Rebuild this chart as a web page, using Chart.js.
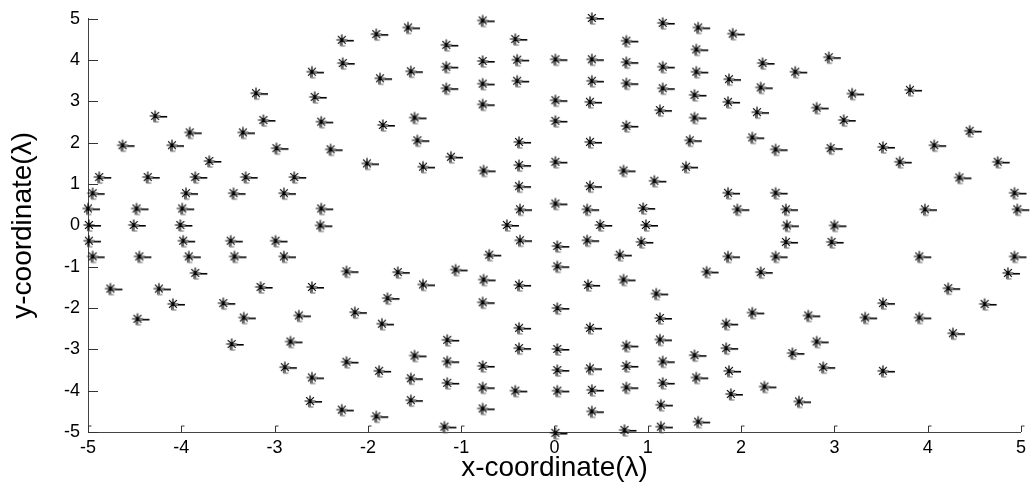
<!DOCTYPE html>
<html>
<head>
<meta charset="utf-8">
<script src="https://cdn.jsdelivr.net/npm/chart.js@4.4.0/dist/chart.umd.min.js"></script>
<style>
  html, body { margin: 0; padding: 0; background: #fff; }
  #wrap { width: 1031px; height: 485px; position: relative; }
</style>
</head>
<body>
<div id="wrap"><canvas id="scatter-chart"></canvas></div>
<script>
// element positions, in units of lambda
const xCoords = [
  -2.28, -1.91, -2.27, -1.87, -2.60, -2.57, -3.20, -4.28, -3.12, -2.50, -1.84, -3.91, -3.34,
  -4.63, -4.10, -2.98, -2.40, -3.70, -2.01, -4.88, -4.36, -3.85, -3.31, -2.79, -4.95, -3.95,
  -3.44, -2.90, -5.00, -4.48, -3.99, -2.50, -4.99, -4.51, -4.01, -2.51,
  -1.57, -0.77, 0.40, 1.16, 1.54, -1.16, -0.42, 0.77, 1.52, -1.54, -1.16, -0.77, -0.40, 0.01,
  0.40, 0.77, 1.16, 1.52, -1.16, -0.77, -0.40, 0.40, 0.77, 1.16, 1.50, -0.77, 0.01, 0.38,
  1.13, 1.50, -1.50, 0.01, 0.77, -1.47, -0.38, 0.38, 1.45, -1.11, -1.41, -0.76, -0.38, 0.01,
  0.74, 1.07, 1.41, -0.38, 0.38, -0.37, 0.01, 0.35, 0.95, -0.51, 0.49, 0.98,
  1.91, 2.23, 2.58, 2.94, 1.87, 2.21, 1.86, 2.17, 2.81, 3.19, 3.10, 3.81, 2.12, 2.37, 2.96,
  3.52, 4.07, 4.45, 3.70, 4.75, 4.34, 1.86, 2.37, 4.93, 1.96, 2.48, 3.97, 4.96, 2.49, 3.00,
  -4.99, -3.98, -3.47, -2.99, -4.95, -4.45, -3.92, -3.43, -2.90, -3.85, -2.23, -4.76, -4.24,
  -3.15, -2.60, -1.79, -4.09, -3.55, -3.33, -2.74, -2.14, -4.47, -1.85, -3.46, -2.83, -2.89,
  -2.23, -1.88, -2.60, -2.62, -2.28, -1.91,
  -0.37, 0.03, 0.35, 0.93, -0.70, 0.03, 0.70, -1.68, -1.06, -1.41, -0.76, -0.38, 0.36, 0.74,
  1.09, 1.63, -0.77, 0.03, -0.38, 0.38, 1.13, -1.15, -0.38, 0.03, 0.77, 1.13, 1.50, -1.50,
  -1.15, -0.77, 0.03, 0.38, 0.77, 1.16, 1.52, -1.54, -1.15, -0.77, -0.42, 0.03, 0.40, 0.77,
  1.16, -1.54, -0.77, 0.40, 1.14, 1.54, -1.18, 0.01, 0.75, 1.14,
  2.48, 2.97, 1.86, 2.37, 3.91, 4.93, 2.21, 4.86, 4.22, 3.52, 4.61, 2.12, 2.72, 3.33, 3.91,
  1.84, 4.27, 2.81, 1.84, 2.55, 2.88, 3.52, 1.87, 2.25, 1.89, 2.62
];
const yCoords = [
  4.49, 4.63, 3.93, 3.56, 3.72, 3.11, 3.20, 2.65, 2.55, 2.51, 2.43, 2.25, 2.25,
  1.94, 1.94, 1.87, 1.84, 1.56, 1.50, 1.17, 1.17, 1.17, 1.17, 1.17, 0.78, 0.78,
  0.78, 0.78, 0.41, 0.41, 0.41, 0.41, 0.01, 0.01, 0.01, 0.00,
  4.79, 4.96, 5.02, 4.90, 4.79, 4.37, 4.51, 4.47, 4.26, 3.73, 3.84, 3.98, 4.01, 4.02,
  4.02, 3.95, 3.84, 3.72, 3.32, 3.43, 3.50, 3.50, 3.44, 3.32, 3.16, 2.93, 3.03, 2.99,
  2.79, 2.61, 2.61, 2.53, 2.41, 2.06, 2.02, 2.02, 2.06, 1.66, 1.42, 1.33, 1.46, 1.54,
  1.33, 1.08, 1.42, 0.95, 0.95, 0.39, 0.53, 0.39, 0.42, 0.01, 0.01, 0.01,
  4.64, 3.93, 3.72, 4.07, 3.54, 3.34, 2.99, 2.74, 2.85, 3.19, 2.55, 3.28, 2.13, 1.84, 1.87,
  1.90, 1.94, 2.29, 1.54, 1.54, 1.16, 0.79, 0.79, 0.79, 0.39, 0.39, 0.39, 0.39, 0.00, 0.00,
  -0.37, -0.37, -0.37, -0.37, -0.75, -0.75, -0.75, -0.75, -0.75, -1.15, -1.11, -1.53, -1.53,
  -1.49, -1.49, -1.76, -1.90, -1.88, -2.23, -2.18, -2.10, -2.26, -2.38, -2.87, -2.81, -3.43,
  -3.30, -3.52, -3.68, -4.25, -4.46, -4.62,
  -0.36, -0.50, -0.36, -0.40, -0.71, -0.99, -0.71, -1.13, -1.07, -1.43, -1.31, -1.44, -1.44, -1.31,
  -1.65, -1.12, -1.86, -2.00, -2.48, -2.48, -2.24, -2.77, -2.97, -2.99, -2.91, -2.76, -3.14, -3.15,
  -3.29, -3.40, -3.50, -3.46, -3.40, -3.29, -3.68, -3.70, -3.81, -3.92, -4.00, -4.00, -3.98, -3.92,
  -3.81, -4.23, -4.43, -4.50, -4.34, -4.75, -4.87, -5.02, -4.95, -4.87,
  -0.40, -0.40, -0.75, -0.75, -0.75, -0.75, -1.13, -1.15, -1.52, -1.88, -1.90, -2.11, -2.18, -2.23, -2.23,
  -2.38, -2.61, -2.81, -2.97, -3.09, -3.43, -3.52, -3.52, -3.90, -4.08, -4.26
];
const xTicks = [-5, -4, -3, -2, -1, 0, 1, 2, 3, 4, 5];
const yTicks = [-5, -4, -3, -2, -1, 0, 1, 2, 3, 4, 5];

// "*" marker with the little trailing dash, drawn once and reused as pointStyle
function makeMarker() {
  const c = document.createElement("canvas");
  c.width = 36;
  c.height = 20;
  const g = c.getContext("2d");
  const cx = 18, cy = 10;
  g.lineWidth = 1;
  g.strokeStyle = "#666";
  g.beginPath();
  g.moveTo(cx + 1, cy + 1.5);
  g.lineTo(cx + 12, cy + 1.5);
  g.moveTo(cx - 1.5, cy + 1.5);
  g.lineTo(cx - 1.5, cy + 6);
  g.lineTo(cx + 3.5, cy + 6);
  g.stroke();
  g.strokeStyle = "#000";
  g.lineWidth = 1.2;
  g.beginPath();
  [0, 45, 90, 135].forEach(function (a) {
    const r = 5.5;
    const dx = r * Math.cos(a * Math.PI / 180);
    const dy = r * Math.sin(a * Math.PI / 180);
    g.moveTo(cx - dx, cy - dy);
    g.lineTo(cx + dx, cy + dy);
  });
  g.moveTo(cx + 5, cy + 0.5);
  g.lineTo(cx + 12, cy + 0.5);
  g.stroke();
  return c;
}

// matlab style ticks pointing into the axes
const insideTicks = {
  id: "insideTicks",
  beforeDatasetsDraw(chart) {
    const ctx = chart.ctx;
    const xs = chart.scales.x, ys = chart.scales.y;
    const area = chart.chartArea;
    ctx.save();
    ctx.strokeStyle = "#333";
    ctx.lineWidth = 1;
    ctx.beginPath();
    xTicks.forEach(function (v) {
      const px = Math.round(xs.getPixelForValue(v)) + 0.5;
      ctx.moveTo(px, area.bottom);
      ctx.lineTo(px, area.bottom - 6);
      ctx.lineTo(px + 3, area.bottom - 6);
    });
    yTicks.forEach(function (v) {
      const py = Math.round(ys.getPixelForValue(v)) + 0.5;
      ctx.moveTo(area.left, py);
      ctx.lineTo(area.left + 10, py);
    });
    ctx.stroke();
    ctx.restore();
  }
};

document.addEventListener("DOMContentLoaded", function () {
  const points = xCoords.map(function (x, i) {
    return { x: x, y: yCoords[i] };
  });
  const tickFont = { family: "'Liberation Sans', Arial, sans-serif", size: 18 };
  const titleFont = { family: "'Liberation Sans', Arial, sans-serif", size: 28 };

  const ctx = document.getElementById("scatter-chart").getContext("2d");
  new Chart(ctx, {
    type: "scatter",
    data: {
      datasets: [
        {
          label: "elements",
          data: points,
          pointStyle: makeMarker(),
          pointRadius: 5,
          clip: false,
        },
      ],
    },
    options: {
      maintainAspectRatio: false,
      animation: false,
      events: [],
      layout: { padding: { top: 11, right: 4, left: 0, bottom: 0 } },
      plugins: {
        legend: { display: false },
        tooltip: { enabled: false },
      },
      scales: {
        x: {
          type: "linear",
          min: -5,
          max: 5,
          afterBuildTicks: function (axis) {
            axis.ticks = xTicks.map(function (v) { return { value: v }; });
          },
          afterFit: function (axis) { axis.height = 53; },
          ticks: { color: "#000", font: tickFont, padding: 5, maxRotation: 0, autoSkip: false },
          grid: { drawOnChartArea: false, drawTicks: false },
          border: { color: "#444", width: 1 },
          title: { display: true, text: "x-coordinate(λ)", color: "#000", font: titleFont, padding: { top: 0, bottom: 0 } },
        },
        y: {
          type: "linear",
          min: -5,
          max: 5,
          afterBuildTicks: function (axis) {
            axis.ticks = yTicks.map(function (v) { return { value: v }; });
          },
          afterFit: function (axis) { axis.width = 88; },
          ticks: { color: "#000", font: tickFont, padding: 8, autoSkip: false },
          grid: { drawOnChartArea: false, drawTicks: false },
          border: { color: "#444", width: 1 },
          title: { display: true, text: "y-coordinate(λ)", color: "#000", font: titleFont, padding: { top: 6, bottom: 0 } },
        },
      },
    },
    plugins: [insideTicks],
  });
});
</script>
</body>
</html>
